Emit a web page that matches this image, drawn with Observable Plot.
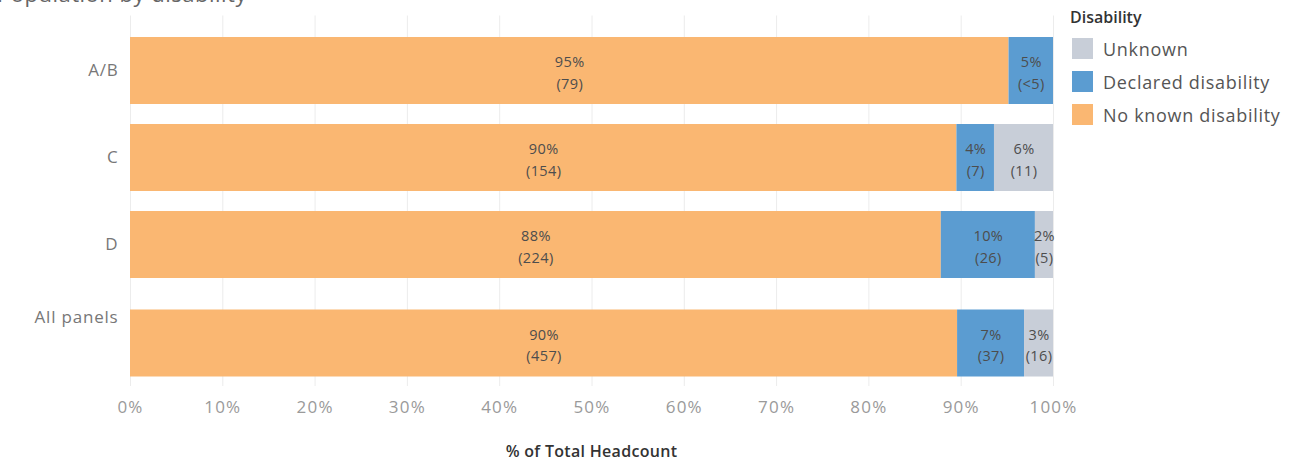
<!DOCTYPE html>
<html>
<head>
<meta charset="utf-8">
<script src="https://cdn.jsdelivr.net/npm/d3@7"></script>
<script src="https://cdn.jsdelivr.net/npm/@observablehq/plot@0.6"></script>
<style>
  html, body { margin: 0; padding: 0; background: #fff; overflow: hidden; }
  body { width: 1304px; height: 461px; position: relative; font-family: "Open Sans", "DejaVu Sans", sans-serif; }
  #chart { position: absolute; left: 0; top: 0; }
  #title { position: absolute; left: -3px; top: -18px; font-size: 22px; line-height: 22px; color: #666; white-space: nowrap; z-index: 2; letter-spacing: 0.5px; }
  #xtitle { position: absolute; left: 130px; width: 923px; top: 440px; text-align: center; font-size: 16px; font-weight: 600; color: #333; letter-spacing: 0.3px; }
  #legend { position: absolute; left: 1070px; top: 6px; }
  #legend .lt { font-size: 16px; font-weight: 600; color: #333; margin-bottom: 4px; }
  #legend .item { display: flex; align-items: center; height: 33px; }
  #legend .sw { width: 21px; height: 21px; margin: 0 10px 0 2px; }
  #legend .lab { font-size: 18px; color: #555; letter-spacing: 0.7px; }
  #chart g[aria-label="x-axis tick label"] text { letter-spacing: 1.2px; }
  #chart g[aria-label="y-axis tick label"] text { letter-spacing: 0.8px; }
  #chart g.ylab text { letter-spacing: 0.8px; }
  #chart g.barlab text { letter-spacing: 0.4px; }
</style>
</head>
<body>
<div id="chart"></div>
<div id="title">Population by disability</div>
<div id="xtitle">% of Total Headcount</div>
<div id="legend"></div>
<script>
// ---- data ----
const rows = ["A/B", "C", "D", "All panels"];
const keys = ["No known disability", "Declared disability", "Unknown"];
const noKnown = [79, 154, 224, 457];
const declared = [4, 7, 26, 37];
const unknown = [0, 11, 5, 16];
const legendOrder = ["Unknown", "Declared disability", "No known disability"];
const colors = ["#FAB772", "#5B9CD1", "#C8CED8"];
const xTicks = [0, 0.1, 0.2, 0.3, 0.4, 0.5, 0.6, 0.7, 0.8, 0.9, 1];

// ---- table ----
const series = [noKnown, declared, unknown];
const data = [];
rows.forEach((r, i) => {
  const total = noKnown[i] + declared[i] + unknown[i];
  keys.forEach((k, j) => {
    const v = series[j][i];
    if (v > 0) data.push({row: r, key: k, value: v, total});
  });
});
const pct = d => Math.round(d.value / d.total * 100) + "%";
const cnt = d => d.value < 5 ? "<5" : String(d.value);
const label = d => pct(d) + "\n(" + cnt(d) + ")";

function rowMarks(subset, dy) {
  return [
    Plot.barX(subset, Plot.stackX({x: "value", y: "row", fill: "key", offset: "normalize", order: keys, dy})),
    Plot.text(subset, Plot.stackX({x: "value", y: "row", z: "key", offset: "normalize", order: keys,
      text: label, dy, fill: "#4d4d4d", fontSize: 14.5, lineHeight: 1.5, className: "barlab"}))
  ];
}
const mainData = data.filter(d => d.row !== "All panels");
const totalData = data.filter(d => d.row === "All panels");

const chart = Plot.plot({
  width: 1070,
  height: 461,
  marginLeft: 130,
  marginRight: 17,
  marginTop: 15.5,
  marginBottom: 75,
  style: {fontFamily: "'Open Sans', 'DejaVu Sans', sans-serif", background: "transparent", overflow: "visible"},
  x: {domain: [0, 1]},
  y: {domain: rows, padding: 0.234},
  color: {domain: keys, range: colors},
  marks: [
    Plot.gridX(xTicks, {stroke: "#ececec", strokeOpacity: 1}),
    ...rowMarks(mainData, 0),
    ...rowMarks(totalData, 11.5),
    Plot.axisX(xTicks, {tickSize: 0, tickPadding: 14, tickFormat: d3.format(".0%"), fontSize: 17, fill: "#9a9a9a", label: null}),
    Plot.axisY({tickSize: 0, tickPadding: 12, fontSize: 17, fill: "#777", label: null,
      tickFormat: d => d === "All panels" ? "" : d}),
    Plot.text(["All panels"], {y: d => d, text: d => d, frameAnchor: "left", dx: -12, dy: -14,
      textAnchor: "end", fontSize: 17, fill: "#777", className: "ylab"})
  ]
});
document.getElementById("chart").appendChild(chart);

// ---- legend ----
const lg = document.getElementById("legend");
lg.innerHTML = '<div class="lt">Disability</div>' + legendOrder.map(k =>
  `<div class="item"><div class="sw" style="background:${colors[keys.indexOf(k)]}"></div><div class="lab">${k}</div></div>`).join("");
</script>
</body>
</html>
